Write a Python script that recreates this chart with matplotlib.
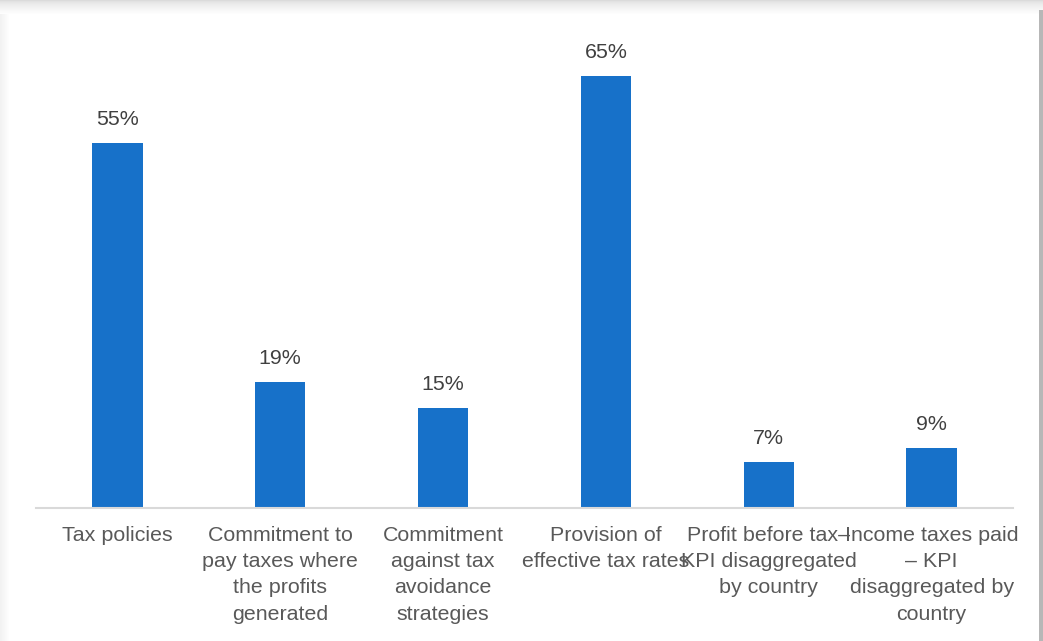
import numpy as np
import matplotlib
matplotlib.use("Agg")
import matplotlib.pyplot as plt

# Share of companies disclosing each tax item
categories = [
    "Tax policies",
    "Commitment to\npay taxes where\nthe profits\ngenerated",
    "Commitment\nagainst tax\navoidance\nstrategies",
    "Provision of\neffective tax rates",
    "Profit before tax\u2013\nKPI disaggregated\nby country",
    "Income taxes paid\n\u2013 KPI\ndisaggregated by\ncountry",
]
shares = [55, 19, 15, 65, 7, 9]

BAR_COLOR = "#1771C9"
TEXT_COLOR = "#595959"
LABEL_COLOR = "#404040"

plt.rcParams["font.family"] = ["Liberation Sans", "DejaVu Sans"]

W, H = 1043, 641
fig = plt.figure(figsize=(W / 100, H / 100), dpi=100)

# card background with a soft drop shadow along the top and sides
bg = fig.add_axes([0, 0, 1, 1], zorder=-10)
img = np.ones((H, W, 3))
top = np.clip(np.arange(H) / 14.0, 0, 1)
shade_top = 0.86 + 0.14 * top ** 0.6
img *= shade_top[:, None, None]
left = np.clip(np.arange(W) / 9.0, 0, 1)
img[14:, :9] *= (0.95 + 0.05 * left[:9])[None, :, None]
img[10:, 1039:] = 0.72
bg.imshow(img, aspect="auto", interpolation="bilinear")
bg.axis("off")

ax = fig.add_axes([36 / W, 1 - 508 / H, (1013 - 36) / W, 465 / H])
x = np.arange(len(categories))
bars = ax.bar(x, shares, width=0.31, color=BAR_COLOR)

for xi, v in zip(x, shares):
    ax.annotate(f"{v}%", (xi, v), xytext=(0, 10), textcoords="offset points",
                ha="center", va="bottom", fontsize=15.4, color=LABEL_COLOR)

ax.set_xlim(-0.5, len(categories) - 0.5)
ax.set_ylim(0, 70)
ax.set_xticks(x)
ax.set_xticklabels(categories, fontsize=15.4, color=TEXT_COLOR, linespacing=1.48)
ax.tick_params(axis="x", length=0, pad=13)
ax.set_yticks([])
for side in ["top", "right", "left"]:
    ax.spines[side].set_visible(False)
ax.spines["bottom"].set_color("#D9D9D9")
ax.spines["bottom"].set_linewidth(1.5)
ax.patch.set_alpha(0)

fig.savefig("out.png", dpi=100)
